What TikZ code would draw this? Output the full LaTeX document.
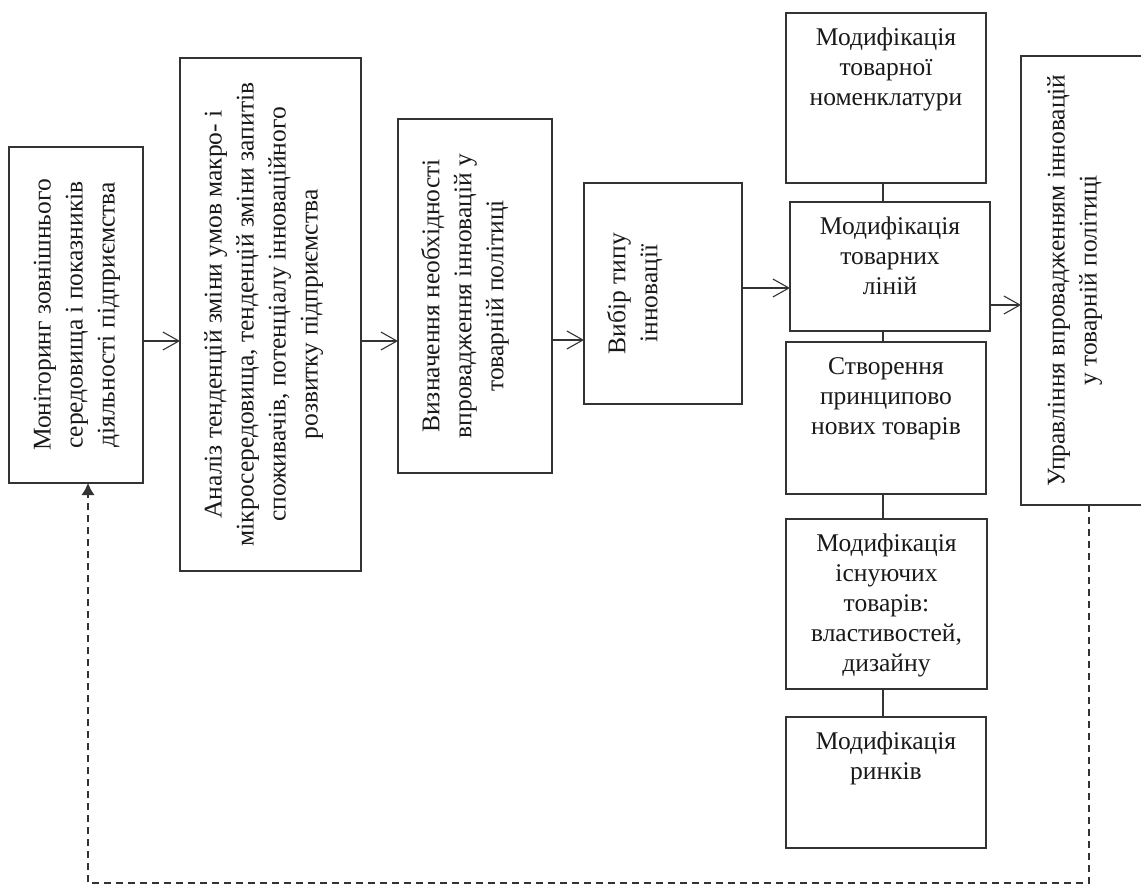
\documentclass[tikz,border=0pt]{standalone}
\usepackage{fontspec}
\setmainfont{Liberation Serif}
\usetikzlibrary{arrows.meta,calc}
\begin{document}
\begin{tikzpicture}[x=1pt,y=-1pt,
  box/.style={draw=black!80, line width=1.1pt, inner sep=0pt, outer sep=0pt},
  vtext/.style={rotate=90, anchor=north, align=center, inner sep=0pt, text=black!90, font=\fontsize{25.5}{32}\selectfont},
  htext/.style={anchor=north, align=center, inner sep=0pt, text=black!90, font=\fontsize{25.5}{30}\selectfont},
  arr/.style={draw=black!80, line width=1.1pt, -{Straight Barb[length=16pt,width=18pt,line width=1.1pt]}},
  link/.style={draw=black!80, line width=1.1pt},
  fb/.style={draw=black!80, line width=1.1pt, dash pattern=on 7pt off 5pt, -{Latex[length=12pt,width=13pt]}}]
\useasboundingbox (0,0) rectangle (1141,885);
% boxes
\node[box, minimum width=134pt, minimum height=336pt] (b1) at (76,315) {};
\node[box, minimum width=181pt, minimum height=513pt] (b2) at (270.5,314.5) {};
\node[box, minimum width=154pt, minimum height=354pt] (b3) at (475,296) {};
\node[box, minimum width=158pt, minimum height=221pt] (b4) at (663,293.5) {};
\node[box, minimum width=200pt, minimum height=170pt] (bA) at (886,98) {};
\node[box, minimum width=200pt, minimum height=129pt] (bB) at (890,266.5) {};
\node[box, minimum width=200pt, minimum height=152pt] (bC) at (886,418) {};
\node[box, minimum width=201pt, minimum height=170pt] (bD) at (886.5,604) {};
\node[box, minimum width=200pt, minimum height=131pt] (bE) at (886,782.5) {};
\node[box, minimum width=149pt, minimum height=449pt] (bR) at (1095.5,280.5) {};
% texts
\node[vtext] (t1) at ([xshift=24.5pt]b1.west) {Моніторинг зовнішнього\\середовища і показників\\діяльності підприємства};
\node[vtext] (t2) at ([xshift=24pt]b2.west) {Аналіз тенденцій зміни умов макро- і\\мікросередовища, тенденцій зміни запитів\\споживачів, потенціалу інноваційного\\розвитку підприємства};
\node[vtext] (t3) at ([xshift=23pt]b3.west) {Визначення необхідності\\впровадження інновацій у\\товарній політиці};
\node[vtext] (t4) at ([xshift=23pt]b4.west) {Вибір типу\\інновації};
\node[vtext] (tR) at ([xshift=26pt]bR.west) {Управління впровадженням інновацій\\у товарній політиці};
\node[htext] (tA) at ([yshift=-15pt]bA.north) {Модифікація\\товарної\\номенклатури};
\node[htext] (tB) at ([yshift=-15pt]bB.north) {Модифікація\\товарних\\ліній};
\node[htext] (tC) at ([yshift=-15pt]bC.north) {Створення\\принципово\\нових товарів};
\node[htext] (tD) at ([yshift=-15pt]bD.north) {Модифікація\\існуючих\\товарів:\\властивостей,\\дизайну};
\node[htext] (tE) at ([yshift=-15pt]bE.north) {Модифікація\\ринків};
% arrows
\draw[arr] (b1.east |- 0,341) -- (b2.west |- 0,341);
\draw[arr] (b2.east |- 0,341) -- (b3.west |- 0,341);
\draw[arr] (b3.east |- 0,340) -- (b4.west |- 0,340);
\draw[arr] (b4.east |- 0,288) -- (bB.west |- 0,288);
\draw[arr] (bB.east |- 0,305) -- (bR.west |- 0,305);
% vertical links
\draw[link] (bA.south -| 883,0) -- (bB.north -| 883,0);
\draw[link] (bB.south -| 883,0) -- (bC.north -| 883,0);
\draw[link] (bC.south -| 883,0) -- (bD.north -| 883,0);
\draw[link] (bD.south -| 883,0) -- (bE.north -| 883,0);
% feedback
\coordinate (fr) at (1089,883);
\coordinate (fl) at (88,883);
\draw[fb] (bR.south -| fr) -- (fr) -- (fl) -- (fl |- b1.south);
\end{tikzpicture}
\end{document}
